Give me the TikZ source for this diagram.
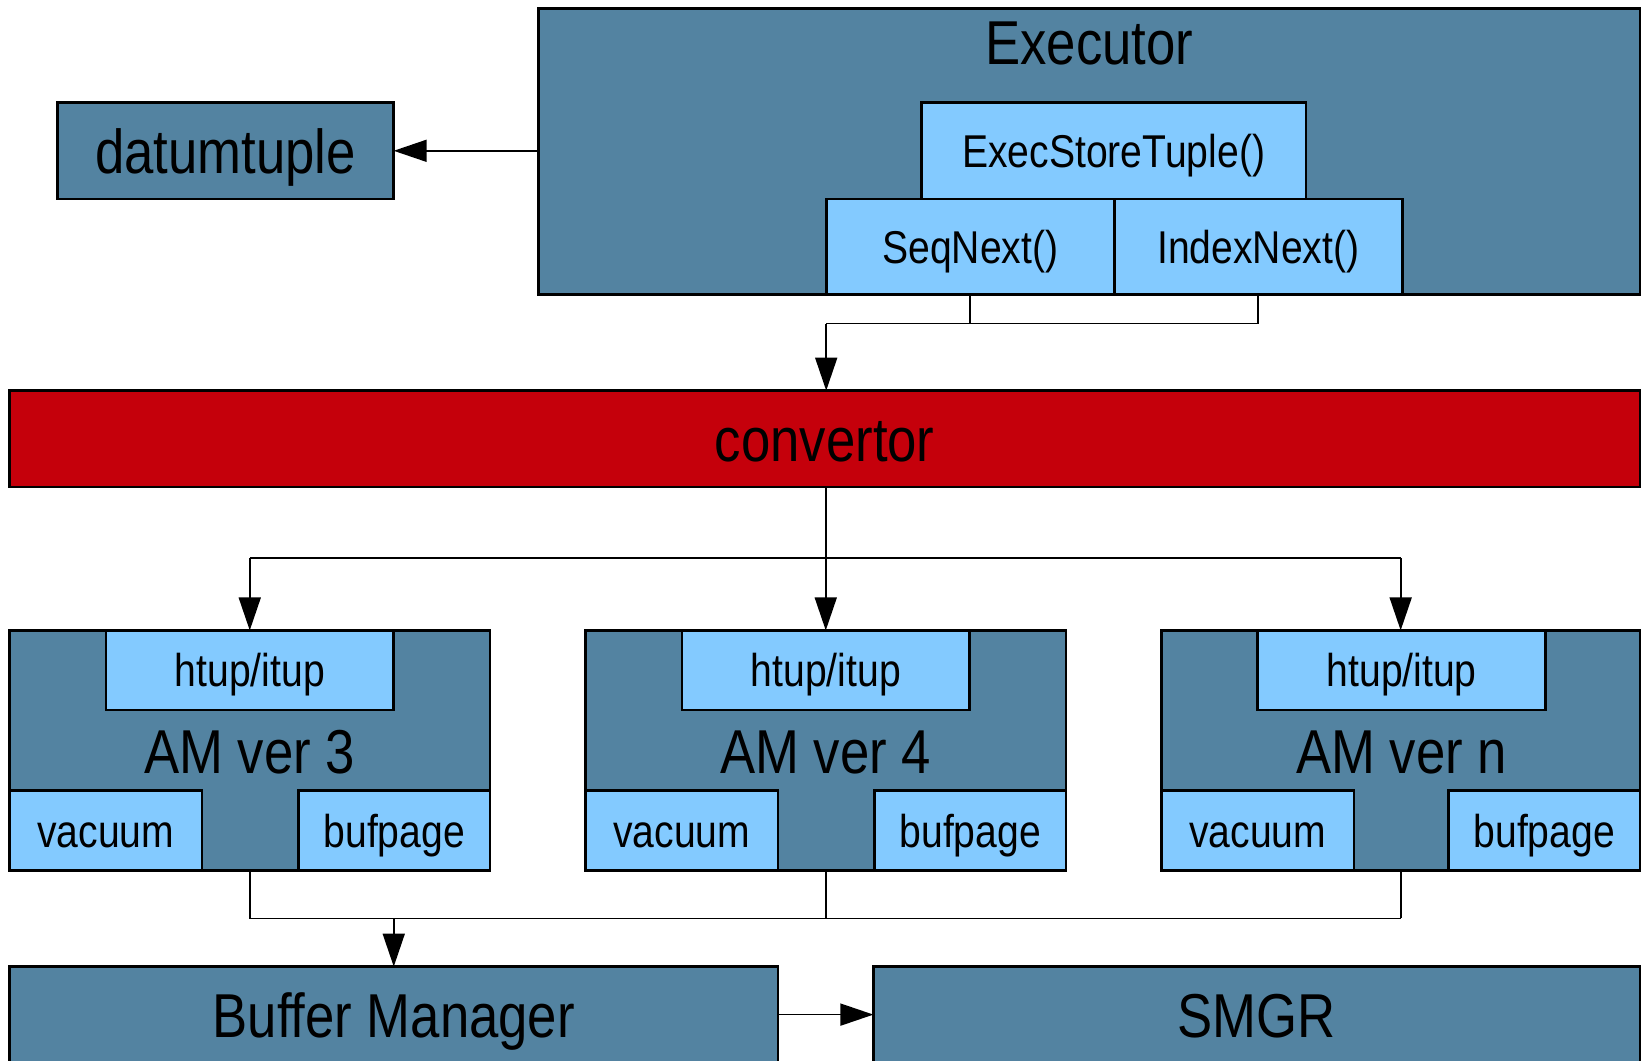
\documentclass[tikz,border=0pt]{standalone}
\usepackage{fontspec}
\setmainfont{Liberation Sans}[FakeStretch=0.85]
\usetikzlibrary{arrows.meta}
\definecolor{steel}{HTML}{5383A1}
\definecolor{sky}{HTML}{83CAFF}
\definecolor{crimson}{HTML}{C5000B}
\newcommand\mybox[7]{\node[#6, minimum width={((#4)-(#2))*0.5pt}, minimum height={((#5)-(#3))*0.5pt}] (#1) at ({((#2)+(#4))/2},{((#3)+(#5))/2}) {#7};}
\begin{document}
\begin{tikzpicture}[x=0.5pt,y=-0.5pt,
  boxbase/.style={draw=black, line width=1.3pt, inner sep=0pt, outer sep=0pt, rectangle},
  outerbox/.style={boxbase, fill=steel},
  innerbox/.style={boxbase, fill=sky},
  redbox/.style={boxbase, fill=crimson},
  bigtext/.style={font=\fontsize{31}{36}\selectfont, text height=22.6pt, text depth=0pt},
  smalltext/.style={font=\fontsize{23}{27}\selectfont, text height=16.6pt, text depth=0pt},
  titletext/.style={font=\fontsize{31}{36}\selectfont, inner sep=0pt, anchor=base},
  conline/.style={draw=black, line width=0.85pt},
  arr/.style={conline, -{Triangle[length=16.5pt,width=11pt]}},
]
\useasboundingbox (0,0) rectangle (1642,1060);
\clip (0,0) rectangle (1642,1060);

% top row
\mybox{datum}{57.6}{102.6}{393.7}{199.0}{outerbox,bigtext}{datumtuple}
\mybox{exec}{538.3}{8.4}{1640}{294.3}{outerbox}{}
\node[titletext] (exectitle) at (1089.2,64.3) {Executor};
\mybox{est}{921.5}{102.6}{1305.9}{199.0}{innerbox,smalltext}{ExecStoreTuple()}
\mybox{seq}{826.2}{199.0}{1114.2}{294.3}{innerbox,smalltext}{SeqNext()}
\mybox{idx}{1114.2}{199.0}{1402.2}{294.3}{innerbox,smalltext}{IndexNext()}

% convertor
\mybox{conv}{9.4}{390.6}{1640}{487.0}{redbox,bigtext}{convertor}

% AM boxes
\foreach \L/\R/\n in {9.4/490.1/3, 585.4/1066.1/4, 1161.3/1640/n}{
  \mybox{am\n}{\L}{630.4}{\R}{870.2}{outerbox}{}
  \mybox{htup\n}{\L+96.4}{630.4}{\L+384.3}{710.0}{innerbox,smalltext}{htup/itup}
  \mybox{vac\n}{\L}{790.6}{\L+192.7}{870.2}{innerbox,smalltext}{vacuum}
  \mybox{bufp\n}{\R-191.6}{790.6}{\R}{870.2}{innerbox,smalltext}{bufpage}
  \node[titletext] (amlabel\n) at ({\L+240.35},773.3) {AM ver \n};
}

% bottom row
\mybox{buf}{9.4}{966.6}{778.1}{1062.6}{outerbox,bigtext}{Buffer Manager}
\mybox{smgr}{873.4}{966.6}{1640}{1062.6}{outerbox,bigtext}{SMGR}

% connectors
\draw[arr] (datum.east -| exec.west) -- (datum.east);

\coordinate (jt) at (826.2,323.6);
\draw[conline] (seq.south) -- (seq.south |- jt);
\draw[conline] (idx.south) |- (jt);
\draw[arr] (jt) -- (jt |- conv.north);

\coordinate (jm) at (825.7,558.2);
\draw[conline] (jm |- conv.south) -- (jm);
\draw[conline] (am3.north |- jm) -- (amn.north |- jm);
\draw[arr] (am3.north |- jm) -- (am3.north);
\draw[arr] (am4.north |- jm) -- (am4.north);
\draw[arr] (amn.north |- jm) -- (amn.north);

\coordinate (jb) at (393.75,918.4);
\draw[conline] (am3.south) |- (amn.south |- jb);
\draw[conline] (am4.south) -- (am4.south |- jb);
\draw[conline] (amn.south) -- (amn.south |- jb);
\draw[arr] (jb) -- (buf.north);

\draw[arr] (buf.east) -- (smgr.west);
\end{tikzpicture}
\end{document}
